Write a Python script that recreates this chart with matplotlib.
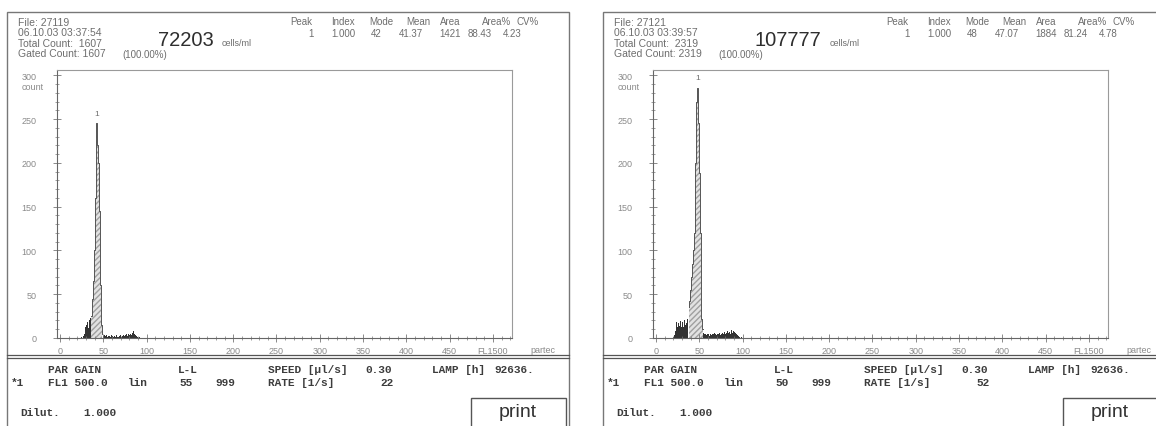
import numpy as np
import matplotlib
matplotlib.use("Agg")
import matplotlib.pyplot as plt
from matplotlib.patches import Rectangle
from matplotlib.lines import Line2D
from matplotlib.ticker import MultipleLocator

W, H = 1156, 427

x_ticks = [0, 50, 100, 150, 200, 250, 300, 350, 400, 450, 500]
x_tick_labels = ["0", "50", "100", "150", "200", "250", "300", "350", "400", "450", "FL1500"]
y_ticks = [0, 50, 100, 150, 200, 250, 300]
stat_headers = ["Peak", "Index", "Mode", "Mean", "Area", "Area%", "CV%"]

# left sample
left_file = "27119"
left_time = "06.10.03 03:37:54"
left_total = "1607"
left_conc = "72203"
left_stats = ["1", "1.000", "42", "41.37", "1421", "88.43", "4.23"]
left_ll = "55"
left_rate = "22"
left_start = 24
left_counts = [0, 1, 0, 2, 5, 12, 9, 15, 18, 11, 20, 23,
               25, 32, 45, 65, 100, 160, 245, 220, 200, 165, 145, 60, 15, 5,
               2, 3, 1, 2, 3, 1, 2, 2, 1, 3, 1, 2, 1, 2, 1, 3, 1, 2, 1, 2,
               3, 1, 2, 3, 2, 1, 3, 4, 2, 5, 3, 4, 2, 3, 6, 8, 5, 3, 2, 1,
               1, 0, 1]
left_gate = (36, 49)
left_peak = (42, 245)

# right sample
right_file = "27121"
right_time = "06.10.03 03:39:57"
right_total = "2319"
right_conc = "107777"
right_stats = ["1", "1.000", "48", "47.07", "1884", "81.24", "4.78"]
right_ll = "50"
right_rate = "52"
right_start = 20
right_counts = [1, 3, 8, 15, 18, 12, 17, 14, 19, 13, 16, 18, 12, 20, 15, 17, 22, 30,
                35, 42, 55, 70, 85, 100, 120, 157, 200, 270, 286, 246, 188, 120, 60, 22, 10,
                6, 4, 5, 3, 4, 3, 5, 2, 4, 3, 5, 4, 3, 6, 4, 3, 5, 4, 6, 3, 5, 4, 6,
                5, 7, 4, 6, 5, 8, 6, 7, 5, 9, 6, 8, 5, 7, 6, 4, 3, 2, 1, 1, 0, 1]
right_gate = (38, 54)
right_peak = (48, 286)

GRAY = "#6e6e6e"
DARK = "#3c3c3c"
MONO = "Liberation Mono"
SANS = "Liberation Sans"

fig = plt.figure(figsize=(W / 100, H / 100), dpi=100)


def fx(x):
    return x / W


def fy(y):
    return 1 - y / H


def ftext(x, y, s, size=7.5, color=GRAY, family=SANS, ha="left", weight="normal"):
    fig.text(fx(x), fy(y), s, fontsize=size, color=color, family=family,
             ha=ha, va="center", fontweight=weight)


def draw_panel(dx, file, stamp, total, conc, stats, ll, rate,
               start, counts, gate, peak, print_x):
    # outer frame and double separator
    fig.add_artist(Rectangle((fx(dx + 7), fy(440)), 562 / W, (440 - 13) / H,
                             transform=fig.transFigure, fill=False,
                             edgecolor="#777777", lw=1.0))
    for yy in (356, 358.5):
        fig.add_artist(Line2D([fx(dx + 7), fx(dx + 569)], [fy(yy), fy(yy)],
                              transform=fig.transFigure, color="#555555", lw=0.9))

    # header
    ftext(dx + 18, 23, "File: " + file)
    ftext(dx + 18, 33, stamp)
    ftext(dx + 18, 44, "Total Count:  " + total)
    ftext(dx + 18, 54, "Gated Count: " + total)
    ftext(dx + 122, 55, "(100.00%)", size=7)
    ftext(dx + 158, 41, conc, size=14.5, color="#2e2e2e")
    ftext(dx + 158 + 11.2 * len(conc) + 8, 44, "cells/ml", size=6.5)
    head_x = [301, 343, 381, 418, 450, 497, 528]
    val_x = [311, 343, 376, 411, 450, 480, 512]
    for hx, name in zip(head_x, stat_headers):
        ftext(dx + hx, 22, name, size=7, ha="center")
    for vx, v in zip(val_x, stats):
        ftext(dx + vx, 34, v, size=7, ha="center")

    # histogram axes
    ax = fig.add_axes([fx(dx + 57), fy(339), (512 - 57) / W, (339 - 71) / H])
    ax.set_xlim(-3.5, 522)
    ax.set_ylim(0, 306)
    ch = np.arange(start, start + len(counts))
    cnt = np.array(counts)
    inside = (ch >= gate[0]) & (ch <= gate[1])
    ax.bar(ch[~inside], cnt[~inside], width=1.0, color="#333333", linewidth=0)
    ax.fill_between(ch[inside], cnt[inside], step="mid", facecolor="#e2e2e2",
                    hatch="//////", edgecolor="#a0a0a0", linewidth=0)
    ax.step(ch[inside], cnt[inside], where="mid", color="#555555", lw=0.7)
    ax.text(peak[0], peak[1] + 10, "1", fontsize=6, color=GRAY, ha="center",
            family=SANS)

    for side in ["top", "right"]:
        ax.spines[side].set_color("#9a9a9a")
        ax.spines[side].set_linewidth(0.8)
    for side in ["left", "bottom"]:
        ax.spines[side].set_color("#666666")
        ax.spines[side].set_linewidth(0.8)
    ax.set_xticks(x_ticks)
    ax.set_xticklabels(x_tick_labels)
    ax.set_yticks(y_ticks)
    ax.xaxis.set_minor_locator(MultipleLocator(10))
    ax.yaxis.set_minor_locator(MultipleLocator(10))
    ax.tick_params(which="major", direction="inout", length=6, width=0.6,
                   color="#777777", labelsize=6.5, labelcolor="#8a8a8a")
    ax.tick_params(which="minor", direction="inout", length=3, width=0.5,
                   color="#777777")
    ax.tick_params(axis="y", pad=12)
    ax.tick_params(axis="x", pad=3)
    for lab in ax.get_xticklabels() + ax.get_yticklabels():
        lab.set_family(SANS)
    ftext(dx + 22, 87, "count", size=6.5, color="#8a8a8a")
    ftext(dx + 530, 351, "partec", size=6.5, color="#8a8a8a")

    # instrument settings
    ms = 8
    rows = [
        (48, 370, "PAR GAIN", "left"), (178, 370, "L-L", "left"),
        (268, 370, "SPEED [\u00b5l/s]", "left"), (365, 370, "0.30", "left"),
        (432, 370, "LAMP [h]", "left"), (494, 370, "92636.", "left"),
        (11, 383, "*1", "left"), (48, 383, "FL1 500.0", "left"),
        (128, 383, "lin", "left"), (186, 383, ll, "center"),
        (215, 383, "999", "left"), (268, 383, "RATE [1/s]", "left"),
        (394, 383, rate, "right"),
        (20, 413, "Dilut.", "left"), (83, 413, "1.000", "left"),
    ]
    for x, y, s, ha in rows:
        ftext(dx + x, y, s, size=ms, color=DARK, family=MONO, weight="bold", ha=ha)

    # print button
    fig.add_artist(Rectangle((fx(print_x), fy(440)), 95 / W, (440 - 399) / H,
                             transform=fig.transFigure, fill=False,
                             edgecolor="#555555", lw=1.0))
    ftext(print_x + 47, 413, "print", size=14, color="#333333", ha="center")


draw_panel(0, left_file, left_time, left_total, left_conc, left_stats,
           left_ll, left_rate, left_start, left_counts, left_gate, left_peak, 471)
draw_panel(596, right_file, right_time, right_total, right_conc, right_stats,
           right_ll, right_rate, right_start, right_counts, right_gate, right_peak, 1063)

fig.savefig("out.png", dpi=100)
